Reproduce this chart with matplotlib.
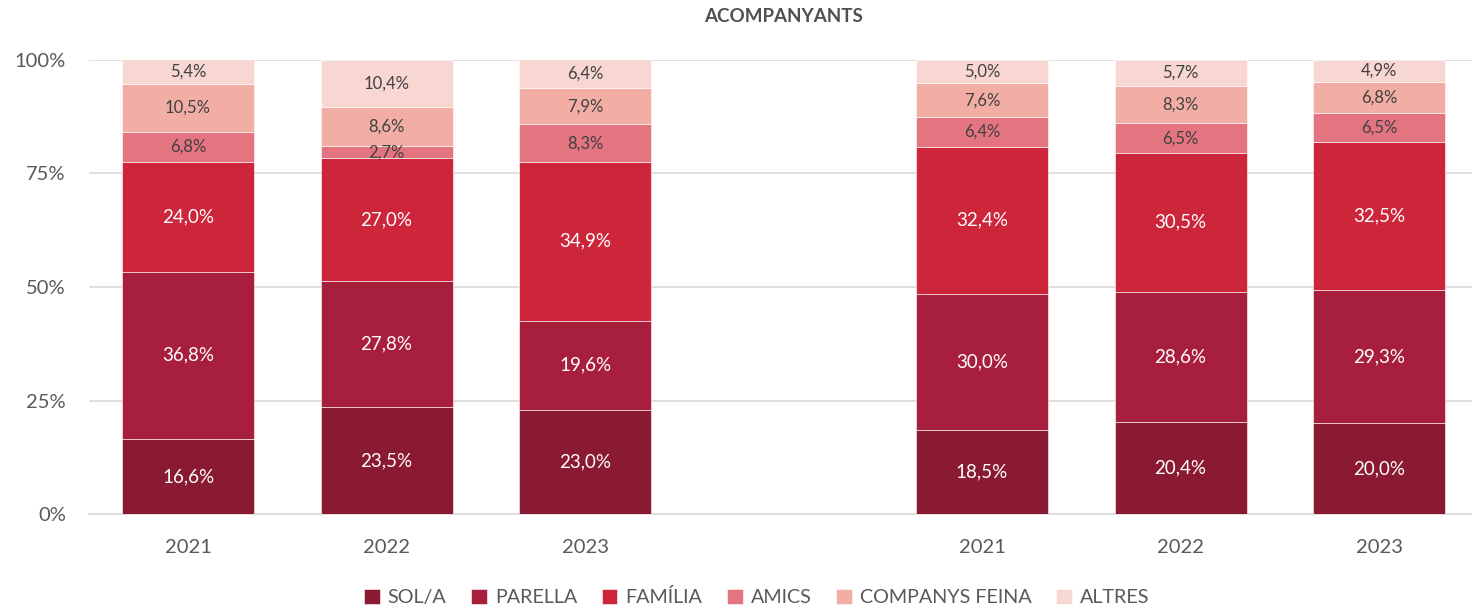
import matplotlib.pyplot as plt
import numpy as np

plt.rcParams['font.family'] = ['Lato', 'DejaVu Sans']

years = ['2021', '2022', '2023', '2021', '2022', '2023']
positions = [0, 1, 2, 4, 5, 6]

series_names = ['SOL/A', 'PARELLA', 'FAMÍLIA', 'AMICS', 'COMPANYS FEINA', 'ALTRES']
sola = [16.6, 23.5, 23.0, 18.5, 20.4, 20.0]
parella = [36.8, 27.8, 19.6, 30.0, 28.6, 29.3]
familia = [24.0, 27.0, 34.9, 32.4, 30.5, 32.5]
amics = [6.8, 2.7, 8.3, 6.4, 6.5, 6.5]
companys = [10.5, 8.6, 7.9, 7.6, 8.3, 6.8]
altres = [5.4, 10.4, 6.4, 5.0, 5.7, 4.9]

colors = ['#8A1A31', '#A81E3D', '#CD253A', '#E57481', '#F2AEA5', '#F8D6D2']
text_colors = ['white', 'white', 'white', '#404040', '#404040', '#404040']

fig = plt.figure(figsize=(14.72, 6.10), dpi=100)
ax = fig.add_axes([0.0603, 0.157, 0.944, 0.745])

bottom = np.zeros(len(positions))
for name, vals, col, tcol in zip(series_names,
                                 [sola, parella, familia, amics, companys, altres],
                                 colors, text_colors):
    vals = np.array(vals)
    ax.bar(positions, vals, 0.665, bottom=bottom, color=col,
           edgecolor='white', linewidth=0.4, label=name, zorder=3)
    for x, b, v in zip(positions, bottom, vals):
        fs = 13.5 if tcol == 'white' else 12
        ax.text(x, b + v / 2, f'{v:.1f}%'.replace('.', ','), ha='center',
                va='center', color=tcol, fontsize=fs, zorder=4)
    bottom += vals

ax.set_xlim(-0.5, 6.5)
ax.set_ylim(0, 100)
ax.set_yticks([0, 25, 50, 75, 100])
ax.set_yticklabels(['0%', '25%', '50%', '75%', '100%'])
ax.set_xticks(positions)
ax.set_xticklabels(years)
ax.tick_params(axis='both', length=0, labelsize=14.5, colors='#595959')
ax.tick_params(axis='x', pad=18)
ax.tick_params(axis='y', pad=16.5)
ax.grid(axis='y', color='#D9D9D9', linewidth=1.2, zorder=0)
for s in ['top', 'right', 'left']:
    ax.spines[s].set_visible(False)
ax.spines['bottom'].set_color('#D9D9D9')
ax.spines['bottom'].set_linewidth(1.2)

ax.set_title('ACOMPANYANTS', fontsize=13.5, fontweight='bold', color='#505050', pad=27)

fig.legend(loc='center', bbox_to_anchor=(0.514, 0.021), ncol=6, frameon=False,
           fontsize=14.2, handlelength=0.8, handleheight=0.8, handletextpad=0.4,
           columnspacing=1.25, labelcolor='#595959')

fig.savefig('out.png', dpi=100)
